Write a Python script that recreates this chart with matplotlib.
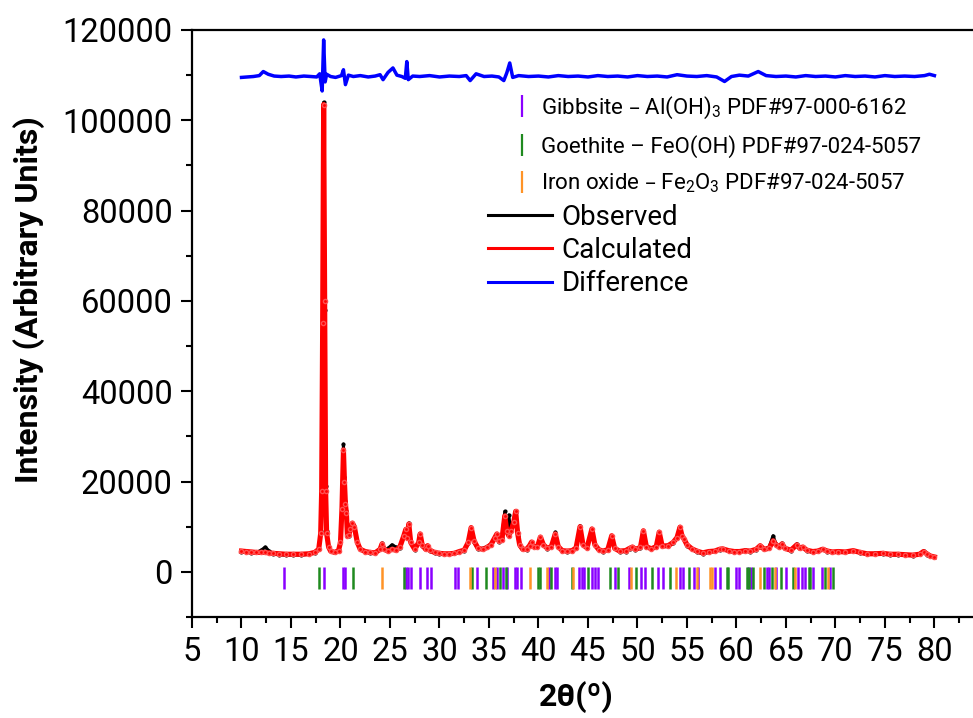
#XRD refinement plot: observed, calculated, difference and reflection ticks
import matplotlib
matplotlib.use("Agg")
import matplotlib.pyplot as plt
from matplotlib.lines import Line2D
from matplotlib.ticker import MultipleLocator

plt.rcParams['font.family'] = ['Roboto', 'DejaVu Sans']

#2theta grid used for observed and calculated patterns
two_theta = [10.0, 10.5, 11.0, 11.5, 12.0, 12.4, 12.8, 13.2, 13.8, 14.5, 15.2, 16.0, 16.8, 17.4,
             17.8, 18.0, 18.1, 18.2, 18.3, 18.4, 18.5, 18.6, 18.8, 19.0, 19.4, 19.8, 20.0, 20.15,
             20.3, 20.4, 20.5, 20.6, 20.7, 20.85, 21.0, 21.2, 21.4, 21.7, 22.0, 22.5, 23.0, 23.5,
             24.0, 24.2, 24.4, 24.8, 25.2, 25.6, 26.0, 26.4, 26.6, 26.75, 26.9, 27.1, 27.5, 27.9,
             28.05, 28.25, 28.6, 28.8, 29.0, 29.5, 30.0, 30.5, 31.0, 31.5, 32.0, 32.5, 32.9, 33.2,
             33.5, 33.9, 34.4, 34.8, 35.2, 35.6, 35.8, 36.0, 36.3, 36.6, 36.8, 37.0, 37.2, 37.5,
             37.7, 37.9, 38.1, 38.4, 38.8, 39.1, 39.3, 39.5, 39.9, 40.2, 40.5, 40.9, 41.3, 41.7,
             42.0, 42.4, 42.9, 43.4, 43.8, 44.2, 44.5, 44.9, 45.4, 45.7, 46.1, 46.5, 47.0, 47.4,
             47.7, 48.2, 48.8, 49.2, 49.5, 49.8, 50.3, 50.6, 50.9, 51.4, 51.9, 52.2, 52.5, 53.1,
             53.6, 54.0, 54.3, 54.5, 54.7, 55.0, 55.5, 56.0, 56.6, 57.2, 57.8, 58.3, 58.6, 59.2,
             59.8, 60.3, 60.9, 61.4, 62.0, 62.4, 62.8, 63.3, 63.7, 64.0, 64.3, 64.6, 64.9, 65.5,
             66.1, 66.4, 66.7, 67.1, 67.7, 68.2, 68.7, 69.2, 69.7, 70.3, 71.0, 71.8, 72.5, 73.2,
             74.0, 74.8, 75.5, 76.3, 77.0, 77.8, 78.5, 78.9, 79.3, 79.6, 80.0]

observed = [4400, 4300, 4200, 4300, 4800, 5500, 4600, 4000, 3800, 3700, 3800, 3700, 3900, 4200,
            5000, 9000, 19000, 57000, 104000, 58000, 19000, 9000, 5600, 4700, 4300, 4800, 6800, 14500,
            28300, 21000, 15800, 13500, 8500, 8000, 9500, 10500, 9800, 6500, 5000, 4400, 4200, 4300,
            5200, 6300, 5000, 5200, 6000, 5500, 5300, 8000, 9500, 7500, 10800, 6300, 4900, 6500,
            8400, 5800, 5000, 5500, 4700, 4200, 4000, 3900, 4000, 4100, 4300, 4700, 6300, 9700,
            6500, 5000, 5200, 5600, 6200, 7500, 8200, 6500, 7500, 13400, 9500, 12600, 9000, 11500,
            13200, 8000, 5800, 5000, 4900, 5700, 6500, 5500, 5600, 7500, 5900, 5100, 5600, 8800,
            5500, 4600, 4500, 4600, 5200, 10200, 6200, 5300, 9500, 6000, 4800, 4500, 4900, 8000,
            5200, 4500, 4500, 5100, 5600, 4900, 5300, 9000, 5500, 5000, 5600, 8800, 5800, 5700,
            6300, 7500, 9600, 8000, 7200, 5800, 5000, 4400, 4000, 4300, 4700, 4800, 5000, 4600,
            4300, 4600, 4800, 4500, 4900, 5600, 5000, 5500, 8000, 6200, 5500, 6300, 5200, 4600,
            6200, 5300, 5400, 4700, 4300, 4700, 5100, 4500, 4300, 4500, 4400, 4600, 4200, 3900,
            4100, 3900, 3800, 3700, 3800, 3600, 4000, 4600, 3800, 3400, 3200]

calculated = [4600, 4500, 4400, 4300, 4300, 4300, 4200, 4100, 4000, 3900, 3900, 3900, 4000, 4300,
              5000, 8500, 18000, 55000, 103500, 60000, 18000, 8500, 5500, 4600, 4300, 4700, 6500, 14000,
              27000, 20000, 15000, 13000, 8000, 8200, 9500, 10800, 10000, 6500, 5000, 4500, 4300, 4200,
              5000, 6200, 5000, 4600, 5000, 4800, 5500, 8000, 9400, 7500, 10600, 6500, 5000, 6500,
              8400, 6000, 5000, 5800, 4800, 4300, 4100, 4000, 4000, 4100, 4500, 4800, 6500, 9800,
              6800, 5200, 5000, 5400, 6000, 7600, 8400, 6800, 7000, 12400, 9000, 8000, 9000, 11000,
              13400, 8500, 6000, 5000, 5000, 5800, 6600, 5600, 5600, 7700, 6000, 5200, 5600, 8400,
              5600, 4700, 4600, 4700, 5300, 10000, 6000, 5300, 9500, 6000, 4900, 4600, 4900, 8000,
              5200, 4600, 4700, 5200, 5500, 5000, 5400, 9100, 5600, 5100, 5600, 8800, 5700, 5800,
              6500, 7600, 9900, 8000, 7300, 6000, 5100, 4600, 4200, 4500, 4600, 5000, 5100, 4700,
              4500, 4500, 4700, 4600, 5000, 5800, 5000, 5200, 6900, 6000, 5500, 6200, 5200, 4800,
              6000, 5200, 5500, 4800, 4500, 4600, 5000, 4600, 4400, 4500, 4400, 4700, 4300, 4000,
              4000, 4100, 3900, 3900, 3800, 3700, 3900, 4500, 3900, 3500, 3300]

#difference curve (already shifted up in the picture)
diff_theta = [10.0, 10.6, 11.2, 11.8, 12.2, 12.7, 13.3, 14.0, 14.8, 15.5, 16.3, 17.0, 17.6, 17.9,
              18.15, 18.3, 18.45, 18.6, 19.0, 19.5, 20.1, 20.3, 20.5, 20.8, 21.3, 22.0, 22.8, 23.5,
              24.0, 24.3, 24.8, 25.3, 25.7, 26.2, 26.55, 26.7, 26.85, 27.3, 28.0, 29.0, 30.0, 31.0,
              32.0, 32.7, 33.1, 33.7, 34.5, 35.3, 36.0, 36.5, 36.8, 37.1, 37.4, 38.0, 39.0, 40.0,
              41.0, 42.0, 43.0, 44.0, 45.0, 46.0, 47.0, 48.0, 49.0, 50.0, 51.0, 52.0, 53.0, 54.0,
              55.0, 56.0, 57.0, 58.0, 58.8, 59.5, 60.3, 61.2, 62.2, 63.0, 64.0, 65.0, 66.0, 67.0,
              68.0, 69.0, 70.0, 71.0, 72.0, 73.0, 74.0, 75.0, 76.0, 77.0, 78.0, 79.0, 79.5, 80.0]
difference = [109500, 109600, 109700, 109900, 110800, 110200, 109800, 109700, 109800, 109600, 109800, 109700, 109600, 110300,
              106500, 117800, 108500, 110200, 109700, 109500, 109900, 111200, 107900, 110000, 109700, 109900, 109600, 109800,
              110100, 109000, 110600, 111600, 110000, 109700, 109300, 113000, 109000, 109800, 109700, 109900, 109600, 109800,
              109700, 109900, 108800, 110300, 109700, 109800, 109600, 108800, 110500, 112700, 109500, 109900, 109700, 109800,
              109600, 109900, 109700, 109800, 109600, 109900, 109700, 109800, 109600, 109900, 109700, 109800, 109600, 110100,
              109800, 109700, 109900, 109600, 108600, 109700, 110000, 109800, 110800, 109900, 109700, 109800, 109600, 109900,
              109700, 109800, 109600, 109900, 109700, 109800, 109600, 109900, 109700, 109800, 109700, 109900, 110200, 109900]

#reflection positions of each phase
gibbsite_pos = [14.3, 18.3, 20.3, 20.5, 26.6, 26.8, 27.1, 28.0, 28.7, 29.1, 31.6, 31.9, 33.8, 35.4, 35.8,
                36.4, 36.8, 37.6, 37.8, 38.2, 41.1, 41.7, 41.9, 44.1, 44.4, 44.6, 45.4, 45.7, 46.0, 47.7,
                49.1, 50.4, 50.8, 52.1, 52.6, 54.3, 54.6, 55.7, 56.1, 57.8, 58.3, 60.0, 60.3, 61.2, 61.5,
                63.1, 63.3, 64.0, 65.0, 66.2, 66.6, 66.9, 67.7, 68.6, 69.5]
goethite_pos = [17.8, 21.3, 26.4, 33.3, 34.7, 36.1, 36.7, 40.0, 40.2, 41.3, 43.4, 45.0, 47.2, 48.0, 49.9,
                51.5, 53.3, 55.2, 59.0, 59.1, 61.1, 61.3, 61.7, 62.8, 63.6, 64.5, 65.7, 67.3, 67.4, 68.9,
                69.8]
ironoxide_pos = [24.2, 33.1, 35.6, 39.1, 40.9, 43.5, 49.3, 53.9, 56.0, 57.3, 57.5, 62.4, 63.9, 65.9, 69.3]

purple = '#8a00ff'
green = '#1f8a1f'
orange = '#ff9326'

fig = plt.figure(figsize=(9.73, 7.18), dpi=100)
ax = fig.add_axes([192 / 973, 1 - 617 / 718, 782 / 973, 587 / 718])

ax.plot(two_theta, observed, color='black', lw=2.2, marker='.', ms=4, zorder=3)
ax.plot(two_theta, calculated, color='red', lw=3.7, marker='o', ms=3, mec='#ff5050', zorder=4)
ax.plot(diff_theta, difference, color='blue', lw=2.5, zorder=3)

#reflection ticks under the pattern
ax.vlines(gibbsite_pos, -3800, 1000, color=purple, lw=1.8, zorder=2)
ax.vlines(goethite_pos, -3800, 1000, color=green, lw=1.8, zorder=2)
ax.vlines(ironoxide_pos, -3800, 1000, color=orange, lw=1.8, zorder=2)

ax.set_xlim(5, 84)
ax.set_ylim(-10000, 120000)
ax.xaxis.set_minor_locator(MultipleLocator(2.5))
ax.yaxis.set_major_locator(MultipleLocator(20000))
ax.yaxis.set_minor_locator(MultipleLocator(10000))
ax.set_xticks(list(range(5, 85, 5)))
ax.tick_params(which='major', length=8, width=1.5, labelsize=23.5, pad=6)
ax.tick_params(which='minor', length=4.5, width=1.5)
ax.spines['right'].set_visible(False)
for s in ['left', 'bottom', 'top']:
    ax.spines[s].set_linewidth(1.6)

ax.set_ylabel('Intensity (Arbitrary Units)', fontsize=23, fontweight='bold')
ax.yaxis.set_label_coords(-0.188, 0.54)
ax.set_xlabel('2θ(º)', fontsize=23, fontweight='bold', va='center')
ax.xaxis.set_label_coords(0.492, -0.137)

#legend for phases
phase_handles = [Line2D([], [], color=c, marker='|', ls='none', ms=16, mew=1.6)
                 for c in [purple, green, orange]]
phase_labels = ['Gibbsite – Al(OH)$\\mathregular{_3}$ PDF#97-000-6162',
                'Goethite – FeO(OH) PDF#97-024-5057',
                'Iron oxide – Fe$\\mathregular{_2}$O$\\mathregular{_3}$ PDF#97-024-5057']
leg1 = ax.legend(phase_handles, phase_labels, loc='upper left', bbox_to_anchor=(513 / 973, 1 - 95 / 718),
                 bbox_transform=fig.transFigure, frameon=False, fontsize=16, handlelength=0.85,
                 handletextpad=0.4, labelspacing=0.62, borderpad=0, borderaxespad=0)
ax.add_artist(leg1)

line_handles = [Line2D([], [], color='black', lw=2.2), Line2D([], [], color='red', lw=2.2),
                Line2D([], [], color='blue', lw=2.2)]
ax.legend(line_handles, ['Observed', 'Calculated', 'Difference'], loc='upper left',
          bbox_to_anchor=(488 / 973, 1 - 204 / 718), bbox_transform=fig.transFigure, frameon=False,
          fontsize=20, handlelength=2.3, handletextpad=0.35, labelspacing=0.22, borderpad=0, borderaxespad=0)

fig.savefig('out.png', dpi=100)
